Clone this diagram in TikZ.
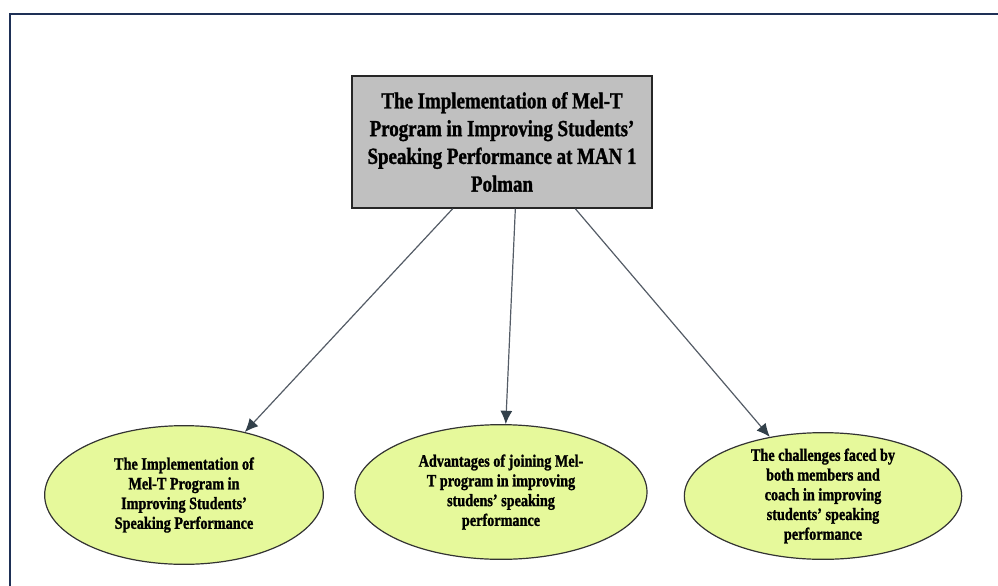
\documentclass[tikz,border=0pt]{standalone}
\usepackage{fontspec}
\setmainfont{Liberation Serif}[FakeStretch=0.82,BoldFeatures={FakeBold=1.3}]
\usetikzlibrary{arrows.meta,shapes.geometric}

\definecolor{framenavy}{RGB}{30,48,86}
\definecolor{boxgray}{RGB}{192,192,192}
\definecolor{ovalgreen}{RGB}{230,249,155}
\definecolor{arrowgray}{RGB}{84,92,102}
\definecolor{headslate}{RGB}{50,64,74}

\tikzset{
    titlebox/.style={rectangle, draw=black!85, line width=1.1pt, fill=boxgray,
        minimum width=225pt, minimum height=99pt, inner sep=0pt, align=center,
        font=\fontsize{17.3}{20.8}\selectfont\bfseries},
    oval/.style={ellipse, draw=black!80, line width=0.9pt, fill=ovalgreen,
        inner sep=-9pt, align=center,
        font=\fontsize{13}{14.8}\selectfont\bfseries},
    link/.style={draw=arrowgray, line width=0.9pt,
        -{Latex[length=10pt,width=9pt,color=headslate,fill=headslate]}}
}

\begin{document}
\begin{tikzpicture}[x=0.75pt,y=-0.75pt]
    \useasboundingbox (0,0) rectangle (998,585);
    % frame
    \draw [framenavy, line width=1.7pt] (10,14) rectangle (1020,620);

    % Blocks
    \node [titlebox] (title) at (502,142) {The Implementation of Mel-T\\Program in Improving Students'\\Speaking Performance at MAN 1\\Polman};
    \node [oval, minimum width=209pt, minimum height=104pt] (impl) at (184,495) {The Implementation of\\Mel-T Program in\\Improving Students'\\Speaking Performance};
    \node [oval, minimum width=219pt, minimum height=101pt] (adv) at (501,492) {Advantages of joining Mel-\\T program in improving\\studens' speaking\\performance};
    \node [oval, minimum width=208pt, minimum height=95pt] (chal) at (823,496) {The challenges faced by\\both members and\\coach in improving\\students' speaking\\performance};

    % Connections
    \draw [link] ([xshift=-37pt]title.south) -- (impl.46);
    \draw [link] ([xshift=10pt]title.south) -- (adv.86);
    \draw [link] ([xshift=55pt]title.south) -- (chal.132);
\end{tikzpicture}
\end{document}
